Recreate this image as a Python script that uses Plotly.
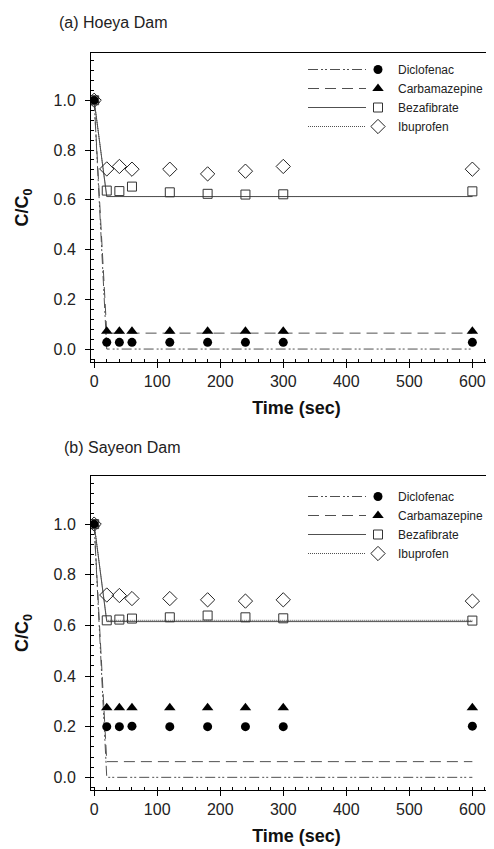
import plotly.graph_objects as go

# ---------------- data ----------------
time = [0, 20, 40, 60, 120, 180, 240, 300, 600]
fit_time = [0, 20, 600]
compounds = ["Diclofenac", "Carbamazepine", "Bezafibrate", "Ibuprofen"]

# (a) Hoeya Dam - measured C/C0
hoeya_diclofenac = [1.0, 0.027, 0.027, 0.027, 0.027, 0.027, 0.027, 0.027, 0.027]
hoeya_carbamazepine = [1.0, 0.072, 0.072, 0.072, 0.072, 0.072, 0.072, 0.072, 0.072]
hoeya_bezafibrate = [1.0, 0.637, 0.635, 0.653, 0.630, 0.624, 0.621, 0.622, 0.634]
hoeya_ibuprofen = [1.0, 0.724, 0.734, 0.723, 0.723, 0.704, 0.715, 0.734, 0.723]
# (a) model fits
hoeya_fit_diclofenac = [1.0, 0.0, 0.0]
hoeya_fit_carbamazepine = [1.0, 0.064, 0.064]
hoeya_fit_bezafibrate = [1.0, 0.613, 0.613]
hoeya_fit_ibuprofen = [1.0, 0.613, 0.613]

# (b) Sayeon Dam - measured C/C0
sayeon_diclofenac = [1.0, 0.200, 0.200, 0.202, 0.200, 0.200, 0.200, 0.200, 0.202]
sayeon_carbamazepine = [1.0, 0.275, 0.275, 0.275, 0.275, 0.275, 0.275, 0.275, 0.275]
sayeon_bezafibrate = [1.0, 0.620, 0.623, 0.627, 0.632, 0.639, 0.632, 0.628, 0.619]
sayeon_ibuprofen = [1.0, 0.720, 0.718, 0.706, 0.706, 0.701, 0.696, 0.701, 0.696]
# (b) model fits
sayeon_fit_diclofenac = [1.0, 0.0, 0.0]
sayeon_fit_carbamazepine = [1.0, 0.062, 0.062]
sayeon_fit_bezafibrate = [1.0, 0.615, 0.615]
sayeon_fit_ibuprofen = [1.0, 0.620, 0.620]

x_ticks = [0, 100, 200, 300, 400, 500, 600]
y_ticks = [0.0, 0.2, 0.4, 0.6, 0.8, 1.0]

# ---------------- styles ----------------
FONT = "Liberation Sans, Arial, sans-serif"
LINE_COL = "#505050"
line_dash = {
    "Diclofenac": "10px,3px,2px,2px,2px,3px",
    "Carbamazepine": "11px,6px",
    "Bezafibrate": "solid",
    "Ibuprofen": "1px,1px",
}
marker_style = {
    "Diclofenac": dict(symbol="circle", size=9, color="black"),
    "Carbamazepine": dict(symbol="triangle-up", size=10, color="black"),
    "Bezafibrate": dict(symbol="square-open", size=9, color="#333333",
                        line=dict(width=1, color="#333333")),
    "Ibuprofen": dict(symbol="diamond-open", size=11, color="#222222",
                      line=dict(width=1, color="#222222")),
}

W, H = 494, 849
ML, MR, MT, MB = 83, 0, 45, 67
PH = H - MT - MB
PW = W - ML - MR


def py(px):
    """pixel row -> paper y"""
    return (H - MB - px) / PH


def pxx(px):
    return (px - ML) / PW


panels = [
    dict(xa="x", ya="y", legend="legend",
         meas=[hoeya_diclofenac, hoeya_carbamazepine, hoeya_bezafibrate, hoeya_ibuprofen],
         fit=[hoeya_fit_diclofenac, hoeya_fit_carbamazepine, hoeya_fit_bezafibrate, hoeya_fit_ibuprofen]),
    dict(xa="x2", ya="y2", legend="legend2",
         meas=[sayeon_diclofenac, sayeon_carbamazepine, sayeon_bezafibrate, sayeon_ibuprofen],
         fit=[sayeon_fit_diclofenac, sayeon_fit_carbamazepine, sayeon_fit_bezafibrate, sayeon_fit_ibuprofen]),
]

fig = go.Figure()
for p in panels:
    for name, fv in zip(compounds, p["fit"]):
        fig.add_trace(go.Scatter(
            x=fit_time, y=fv, mode="lines", xaxis=p["xa"], yaxis=p["ya"],
            line=dict(color=LINE_COL, width=1, dash=line_dash[name]),
            showlegend=False, hoverinfo="skip"))
    for name, mv in zip(compounds, p["meas"]):
        fig.add_trace(go.Scatter(
            x=time, y=mv, mode="markers", name=name, xaxis=p["xa"], yaxis=p["ya"],
            marker=marker_style[name], legend=p["legend"]))

common_x = dict(
    range=[-5, 647], tickmode="array", tickvals=x_ticks, ticks="outside", ticklen=5,
    tickcolor="black", showline=True, linecolor="black", linewidth=1, mirror=True,
    showgrid=False, zeroline=False, tickfont=dict(family=FONT, size=16, color="#222"),
    minor=dict(ticks="inside", dtick=20, tick0=0, ticklen=3, tickcolor="black", showgrid=False),
    title=dict(text="<b>Time (sec)</b>", font=dict(family=FONT, size=18, color="#111"), standoff=12),
)
common_y = dict(
    tickmode="array", tickvals=y_ticks, tickformat=".1f", ticks="outside", ticklen=5,
    tickcolor="black", showline=True, linecolor="black", linewidth=1, mirror=False,
    showgrid=False, zeroline=False, tickfont=dict(family=FONT, size=16, color="#222"),
    ticklabelstandoff=6,
    minor=dict(ticks="inside", dtick=0.04, tick0=0, ticklen=3, tickcolor="black", showgrid=False),
    title=dict(text="<b>C/C<sub>0</sub></b>", font=dict(family=FONT, size=18, color="#111"), standoff=20),
)

legend_common = dict(
    xanchor="left", yanchor="top", bgcolor="rgba(0,0,0,0)", borderwidth=0,
    font=dict(family=FONT, size=12, color="#222"), itemwidth=30,
)

LEG_A_TOP, LEG_B_TOP = 47, 474
LEG_X = 350

fig.update_layout(
    width=W, height=H, margin=dict(l=ML, r=MR, t=MT, b=MB),
    paper_bgcolor="white", plot_bgcolor="white",
    font=dict(family=FONT, color="#222"),
    xaxis=dict(domain=[0, 1], anchor="y", **common_x),
    yaxis=dict(domain=[py(354), 1.0], anchor="x", range=[-0.052, 1.19], **common_y),
    xaxis2=dict(domain=[0, 1], anchor="y2", **common_x),
    yaxis2=dict(domain=[0.0, py(468)], anchor="x2", range=[-0.05, 1.19], **common_y),
    legend=dict(x=pxx(LEG_X), y=py(LEG_A_TOP), **legend_common),
    legend2=dict(x=pxx(LEG_X), y=py(LEG_B_TOP), **legend_common),
    showlegend=True,
)

# subplot titles
fig.add_annotation(text="(a) Hoeya Dam", xref="paper", yref="paper", x=pxx(49), y=py(15),
                   xanchor="left", yanchor="middle", showarrow=False,
                   font=dict(family=FONT, size=16, color="#222"))
fig.add_annotation(text="(b) Sayeon Dam", xref="paper", yref="paper", x=pxx(54), y=py(439),
                   xanchor="left", yanchor="middle", showarrow=False,
                   font=dict(family=FONT, size=16, color="#222"))

# legend line samples (drawn next to the legend entries)
ROW = 19
for top in (LEG_A_TOP, LEG_B_TOP):
    for i, name in enumerate(compounds):
        yc = top + 14.5 + ROW * i
        fig.add_shape(type="line", xref="paper", yref="paper",
                      x0=pxx(LEG_X - 50), x1=pxx(LEG_X + 8), y0=py(yc), y1=py(yc),
                      line=dict(color=LINE_COL, width=1, dash=line_dash[name]))

fig.write_html("out.html")
